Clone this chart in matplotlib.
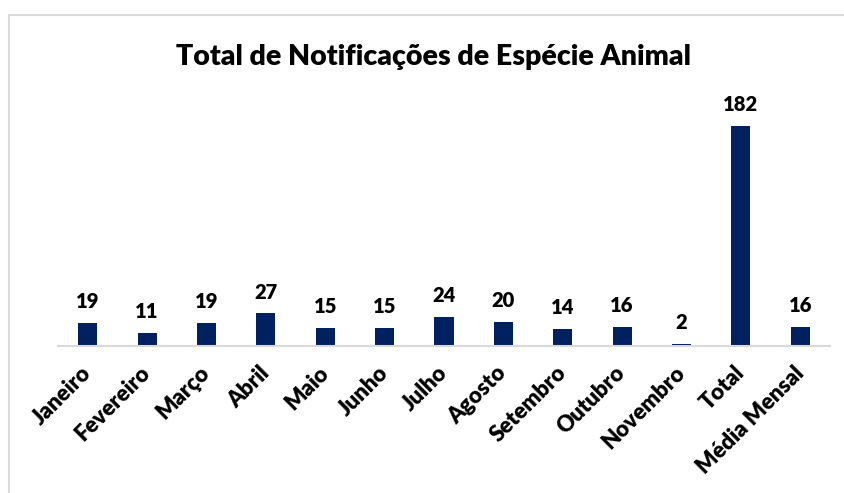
import matplotlib.pyplot as plt
from matplotlib.lines import Line2D

# dados do gráfico
meses = ['Janeiro', 'Fevereiro', 'Março', 'Abril', 'Maio', 'Junho', 'Julho',
         'Agosto', 'Setembro', 'Outubro', 'Novembro', 'Total', 'Média Mensal']
notificacoes = [19, 11, 19, 27, 15, 15, 24, 20, 14, 16, 2, 182, 16]

plt.rcParams['font.family'] = ['Lato', 'DejaVu Sans']

fig = plt.figure(figsize=(8.44, 4.93), dpi=100)
ax = fig.add_axes([58 / 844, 147 / 493, 772 / 844, 0.49])

x = range(len(meses))
barras = ax.bar(x, notificacoes, width=0.32, color='#002060')
ax.set_xlim(-0.5, len(meses) - 0.5)
ax.set_ylim(0, 200)

# rótulos de valor
for b, v in zip(barras, notificacoes):
    ax.annotate(str(v), (b.get_x() + b.get_width() / 2, v), xytext=(0, 8.5),
                textcoords='offset points', ha='center', va='bottom',
                fontsize=14.5, fontweight='heavy')

ax.set_xticks(list(x))
ax.set_xticklabels(meses, rotation=45, ha='right', va='center', rotation_mode='anchor',
                   fontsize=16, fontweight='heavy')
ax.tick_params(axis='x', length=0, pad=17)
ax.set_yticks([])
for s in ['top', 'right', 'left']:
    ax.spines[s].set_visible(False)
ax.spines['bottom'].set_color('#d9d9d9')
ax.spines['bottom'].set_linewidth(1.5)

fig.text(0.514, 0.885, 'Total de Notificações de Espécie Animal', ha='center',
         va='center', fontsize=20.5, fontweight='heavy')

# moldura do gráfico (só topo e esquerda visíveis)
fig.add_artist(Line2D([9 / 844, 9 / 844], [0, 1 - 14.5 / 493], color='#d9d9d9', lw=1.5,
                      transform=fig.transFigure))
fig.add_artist(Line2D([9 / 844, 1], [1 - 14.5 / 493, 1 - 14.5 / 493], color='#d9d9d9', lw=1.5,
                      transform=fig.transFigure))

fig.savefig('out.png', dpi=100)
